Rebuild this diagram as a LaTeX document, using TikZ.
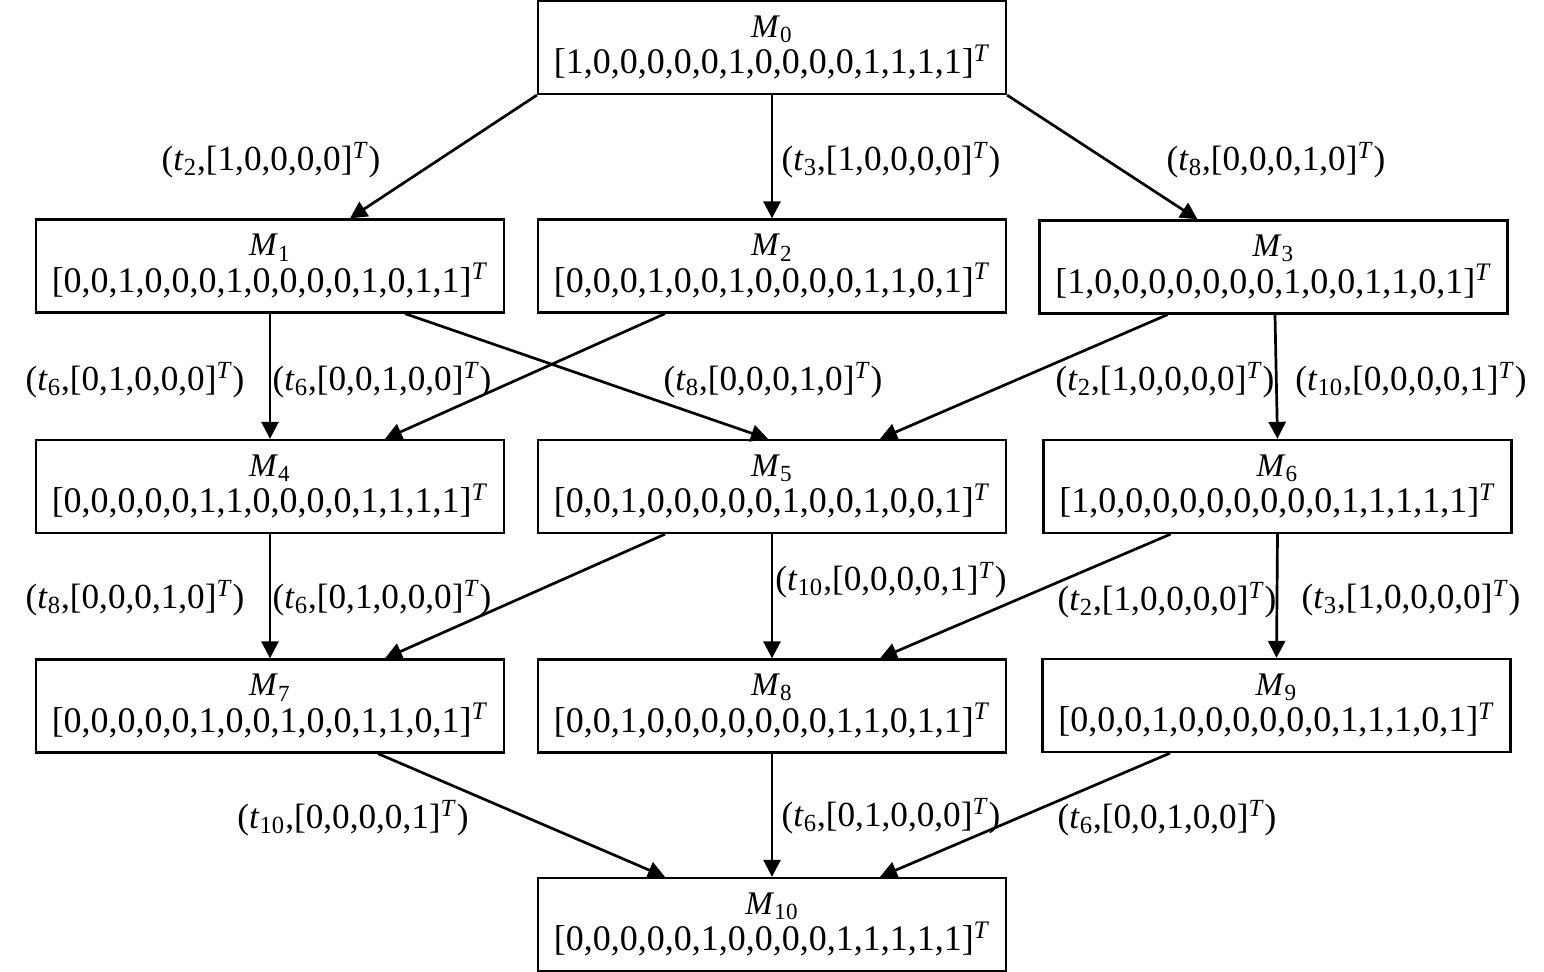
\documentclass[tikz,border=0pt]{standalone}
\usepackage{fontspec}
\setmainfont{Liberation Serif}
\usetikzlibrary{arrows.meta,calc}
\newcommand{\msub}[1]{{\fontsize{16.5}{16.5}\selectfont\textit{M}\textsubscript{#1}}}
\newcommand{\vecT}[1]{[#1]\textsuperscript{\textit{T}}}
\newcommand{\tlab}[2]{(\textit{t}\textsubscript{#1},[#2]\textsuperscript{\textit{T}})}
\begin{document}
\begin{tikzpicture}[x=0.5pt,y=-0.5pt,
  mstate/.style={draw,line width=1.15pt,rectangle,minimum width=234pt,minimum height=46.5pt,inner sep=0pt,align=center,font=\fontsize{18}{16.5}\selectfont},
  tlabel/.style={inner sep=0pt,font=\fontsize{17.6}{17.5}\selectfont},
  arr/.style={line width=1.35pt,-{Triangle[length=8.5pt,width=8.5pt]}}]
\useasboundingbox (0,0) rectangle (1544,972);
\node[mstate] (M0) at (772,47.5) {\msub{0}\\\vecT{1,0,0,0,0,0,1,0,0,0,0,1,1,1,1}};
\node[mstate] (M1) at (270,266) {\msub{1}\\\vecT{0,0,1,0,0,0,1,0,0,0,0,1,0,1,1}};
\node[mstate] (M2) at (772,266) {\msub{2}\\\vecT{0,0,0,1,0,0,1,0,0,0,0,1,1,0,1}};
\node[mstate] (M3) at (1273.5,267) {\msub{3}\\\vecT{1,0,0,0,0,0,0,0,1,0,0,1,1,0,1}};
\node[mstate] (M4) at (270,486.5) {\msub{4}\\\vecT{0,0,0,0,0,1,1,0,0,0,0,1,1,1,1}};
\node[mstate] (M5) at (772,486.5) {\msub{5}\\\vecT{0,0,1,0,0,0,0,0,1,0,0,1,0,0,1}};
\node[mstate] (M6) at (1277.5,486.5) {\msub{6}\\\vecT{1,0,0,0,0,0,0,0,0,0,1,1,1,1,1}};
\node[mstate] (M7) at (270,706) {\msub{7}\\\vecT{0,0,0,0,0,1,0,0,1,0,0,1,1,0,1}};
\node[mstate] (M8) at (772,706) {\msub{8}\\\vecT{0,0,1,0,0,0,0,0,0,0,1,1,0,1,1}};
\node[mstate] (M9) at (1276.5,705.5) {\msub{9}\\\vecT{0,0,0,1,0,0,0,0,0,0,1,1,1,0,1}};
\node[mstate] (M10) at (772,924.5) {\msub{10}\\\vecT{0,0,0,0,0,1,0,0,0,0,1,1,1,1,1}};

\draw[arr] (M0.south west) -- ($(M1.north)+(80,0)$);
\draw[arr] (M0.south) -- (M2.north);
\draw[arr] (M0.south east) -- ($(M3.north)+(-76,0)$);
\draw[arr] (M1.south) -- (M4.north);
\draw[arr] ($(M1.south)+(135,0)$) -- ($(M5.north)+(-4,0)$);
\draw[arr] ($(M2.south)+(-107,0)$) -- ($(M4.north)+(115,0)$);
\draw[arr] ($(M3.south)+(-106,0)$) -- ($(M5.north)+(108,0)$);
\draw[arr] ($(M3.south)+(1.5,0)$) -- (M6.north);
\draw[arr] (M4.south) -- (M7.north);
\draw[arr] ($(M5.south)+(-107,0)$) -- ($(M7.north)+(115,0)$);
\draw[arr] (M5.south) -- (M8.north);
\draw[arr] ($(M6.south)+(-107,0)$) -- ($(M8.north)+(108,0)$);
\draw[arr] (M6.south) -- (M9.north);
\draw[arr] ($(M7.south)+(108,0)$) -- ($(M10.north)+(-107,0)$);
\draw[arr] (M8.south) -- (M10.north);
\draw[arr] ($(M9.south)+(-106.5,0)$) -- ($(M10.north)+(108,0)$);

\node[tlabel] (L01) at (271,160) {\tlab{2}{1,0,0,0,0}};
\node[tlabel] (L02) at (891,160) {\tlab{3}{1,0,0,0,0}};
\node[tlabel] (L03) at (1276,160) {\tlab{8}{0,0,0,1,0}};
\node[tlabel] (L14) at (135,380) {\tlab{6}{0,1,0,0,0}};
\node[tlabel] (L24) at (382,380) {\tlab{6}{0,0,1,0,0}};
\node[tlabel] (L15) at (773,380) {\tlab{8}{0,0,0,1,0}};
\node[tlabel] (L35) at (1165,380) {\tlab{2}{1,0,0,0,0}};
\node[tlabel] (L36) at (1411,380) {\tlab{10}{0,0,0,0,1}};
\node[tlabel] (L47) at (135,598) {\tlab{8}{0,0,0,1,0}};
\node[tlabel] (L57) at (382,598) {\tlab{6}{0,1,0,0,0}};
\node[tlabel] (L58) at (891,580) {\tlab{10}{0,0,0,0,1}};
\node[tlabel] (L68) at (1167,600) {\tlab{2}{1,0,0,0,0}};
\node[tlabel] (L69) at (1411,598) {\tlab{3}{1,0,0,0,0}};
\node[tlabel] (L710) at (353,818) {\tlab{10}{0,0,0,0,1}};
\node[tlabel] (L810) at (891,816) {\tlab{6}{0,1,0,0,0}};
\node[tlabel] (L910) at (1167,818) {\tlab{6}{0,0,1,0,0}};
\end{tikzpicture}
\end{document}
